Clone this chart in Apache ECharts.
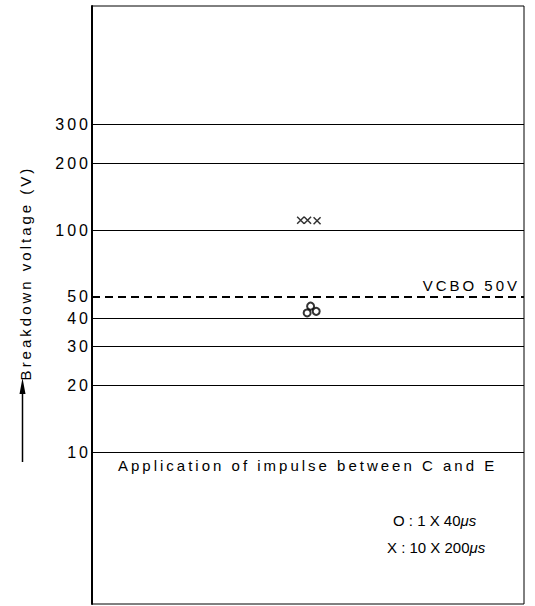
<!DOCTYPE html>
<html>
<head>
<meta charset="utf-8">
<script src="https://cdn.jsdelivr.net/npm/echarts@6/dist/echarts.min.js"></script>
<style>
    html, body { margin: 0; padding: 0; background: #fff; }
    #chart { width: 535px; height: 606px; }
</style>
</head>
<body>
<div id="chart"></div>
<script>
    // horizontal reference levels (V) drawn as lines with their values on the left
    var yLevels = [10, 20, 30, 40, 50, 100, 200, 300];
    var vcboLevel = 50;
    var vcboText = 'VCBO 50V';
    // measured breakdown points: [position across the plot (0-100), voltage]
    var pulse1x40 = [[50.6, 45.4], [49.8, 42.3], [51.9, 43.0]];
    var pulse10x200 = [[48.3, 110.6], [49.9, 110.6], [52.1, 110.0]];
    var yTitle = 'Breakdown voltage (V)';
    var noteText = 'Application of impulse between C and E';

    var font = '"Liberation Sans", Arial, sans-serif';
    var chart = echarts.init(document.getElementById('chart'), null, {renderer: 'svg'});

    function levelLines() {// one markLine item per level, 50 V is dashed
        var list = [];
        for (var i = 0; i < yLevels.length; i++) {
            var dashed = yLevels[i] === vcboLevel;
            list.push({
                yAxis: yLevels[i],
                lineStyle: {
                    color: '#000',
                    width: dashed ? 2 : 1,
                    type: dashed ? [8, 5] : 'solid'
                }
            });
        }
        return list;
    }

    var option = {
        animation: false,
        backgroundColor: '#fff',
        textStyle: {fontFamily: font, color: '#000'},
        grid: {
            left: 92, right: 11, top: 6, bottom: 2,
            show: true,
            borderColor: '#000',
            borderWidth: 1
        },
        xAxis: {
            type: 'value',
            min: 0,
            max: 100,
            show: false
        },
        yAxis: {
            type: 'log',
            logBase: 10,
            min: 2.067,
            max: 1021,
            axisLine: {show: true, lineStyle: {color: '#000', width: 2}},
            axisTick: {show: false},
            axisLabel: {show: false},
            splitLine: {show: false}
        },
        series: [
            {
                name: 'O',
                type: 'scatter',
                data: pulse1x40,
                symbol: 'emptyCircle',
                symbolSize: 7,
                itemStyle: {color: '#000', borderColor: '#000', borderWidth: 1.3},
                markLine: {
                    silent: true,
                    symbol: ['none', 'none'],
                    label: {
                        position: 'start',
                        distance: 1,
                        fontSize: 16,
                        fontFamily: font,
                        color: '#000',
                        formatter: function (p) { return String(p.value); }
                    },
                    data: levelLines()
                }
            },
            {
                name: 'X',
                type: 'scatter',
                data: pulse10x200,
                symbol: 'path://M0,0L10,10M10,0L0,10',
                symbolSize: 7,
                itemStyle: {color: '#000', borderColor: '#000', borderWidth: 1.5},
                markLine: {
                    silent: true,
                    symbol: ['none', 'none'],
                    lineStyle: {color: 'rgba(0,0,0,0)', width: 1},
                    label: {
                        show: true,
                        position: 'insideEndTop',
                        distance: 4,
                        fontSize: 15,
                        fontFamily: font,
                        color: '#000',
                        formatter: vcboText
                    },
                    data: [{yAxis: vcboLevel}]
                }
            }
        ],
        graphic: [
            {
                type: 'text',
                x: 25,
                y: 273,
                rotation: Math.PI / 2,
                style: {text: yTitle, font: '15px ' + font, fill: '#000', align: 'center', verticalAlign: 'middle'}
            },
            {
                type: 'line',
                shape: {x1: 22.5, y1: 462, x2: 22.5, y2: 390},
                style: {stroke: '#000', lineWidth: 1.5}
            },
            {
                type: 'polygon',
                shape: {points: [[22.5, 378], [19.5, 394], [25.5, 394]]},
                style: {fill: '#000'}
            },
            {
                type: 'text',
                x: 118,
                y: 465,
                style: {text: noteText, font: '15px ' + font, fill: '#000', align: 'left', verticalAlign: 'middle'}
            },
            {
                type: 'text',
                x: 393,
                y: 520,
                style: {
                    text: 'O : 1 X 40{i|μs}',
                    font: '15px ' + font, fill: '#000', align: 'left', verticalAlign: 'middle',
                    rich: {i: {fontStyle: 'italic', fontSize: 15, fontFamily: font}}
                }
            },
            {
                type: 'text',
                x: 387,
                y: 547,
                style: {
                    text: 'X : 10 X 200{i|μs}',
                    font: '15px ' + font, fill: '#000', align: 'left', verticalAlign: 'middle',
                    rich: {i: {fontStyle: 'italic', fontSize: 15, fontFamily: font}}
                }
            }
        ]
    };

    // the scanned lettering is widely spaced, except the two pulse lines
    var plainTexts = ['O : 1 X 40', 'X : 10 X 200', 'μs'];
    function spaceLetters() {
        var nodes = document.querySelectorAll('#chart text');
        for (var i = 0; i < nodes.length; i++) {
            var t = (nodes[i].textContent || '').trim();
            nodes[i].setAttribute('letter-spacing', plainTexts.indexOf(t) >= 0 ? '0' : '3');
        }
    }
    chart.on('finished', spaceLetters);
    chart.setOption(option);
    spaceLetters();
    setTimeout(spaceLetters, 50);
</script>
</body>
</html>
